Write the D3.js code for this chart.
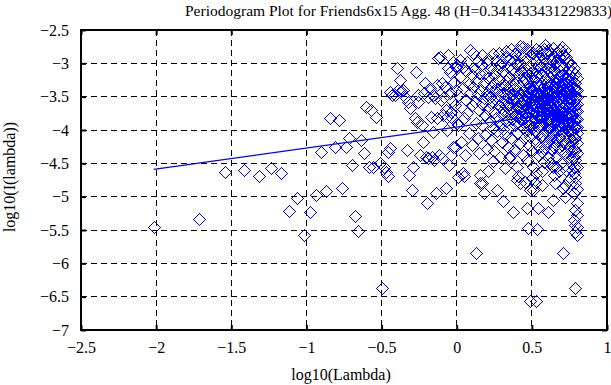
<!DOCTYPE html>
<html>
<head>
<meta charset="utf-8">
<script src="https://cdn.jsdelivr.net/npm/d3@7"></script>
<style>
    body { margin: 0; background: #fff; }
    #chart { width: 611px; height: 385px; overflow: hidden; }
    text { font-family: "Liberation Serif", "Times New Roman", serif; }
</style>
</head>
<body>
<div id="chart"></div>
<script>
// Axis ticks
var xTicks = [-2.5, -2, -1.5, -1, -0.5, 0, 0.5, 1];
var yTicks = [-7, -6.5, -6, -5.5, -5, -4.5, -4, -3.5, -3, -2.5];

// Fitted line end points (log10 lambda, log10 I)
var fitX = [-2.016, 0.798];
var fitY = [-4.59, -3.706];

// Low frequencies, read one by one
var lowPoints = [
    [-2.016,-5.46],[-1.715,-5.33],[-1.539,-4.63],[-1.414,-4.60],[-1.317,-4.69],[-1.238,-4.565],
    [-1.171,-4.64],[-1.113,-5.21],[-1.062,-5.02],[-1.016,-5.58],[-0.975,-5.23],[-0.937,-4.975],
    [-0.902,-4.325],[-0.870,-4.91],[-0.840,-3.825],[-0.812,-4.25],[-0.786,-3.85],[-0.761,-4.865],
    [-0.737,-4.25],[-0.715,-4.125],[-0.694,-4.53],[-0.674,-5.29],[-0.654,-5.51],[-0.636,-4.15],
    [-0.618,-4.35],[-0.601,-3.65],[-0.585,-4.56],[-0.569,-3.70],[-0.554,-4.55],[-0.539,-3.80],
    [-0.511,-4.50],[-0.497,-6.365],[-0.484,-4.56],[-0.471,-4.625],[-0.459,-4.685],[-0.455,-4.325],
    [-0.444,-4.275],[-0.444,-3.425],[-0.433,-3.48],[-0.41,-3.475],[-0.400,-3.075],[-0.389,-3.40],
    [-0.378,-3.25],[-0.368,-3.42],[-0.358,-3.40],[-0.344,-3.50],[-0.333,-4.30],[-0.322,-3.575],
    [-0.316,-4.675],[-0.311,-3.675],[-0.300,-4.90],[-0.289,-4.55],[-0.278,-3.825],[-0.271,-3.125],
    [-0.265,-3.88],[-0.260,-3.575],[-0.256,-3.475],[-0.244,-4.375],[-0.233,-3.925],[-0.222,-4.175],
    [-0.216,-3.45],[-0.211,-3.30],[-0.205,-4.40],[-0.200,-5.09],[-0.194,-3.50],[-0.189,-4.425],
    [-0.178,-3.375],[-0.172,-3.80],[-0.167,-4.40],[-0.161,-3.48],[-0.156,-4.025],[-0.150,-4.45],
    [-0.144,-3.52],[-0.138,-4.95],[-0.133,-3.325],[-0.128,-3.825],[-0.122,-2.925],[-0.117,-4.375],
    [-0.111,-2.90],[-0.106,-3.55],[-0.100,-3.30],[-0.095,-4.42],[-0.089,-3.775],[-0.084,-3.50],
    [-0.078,-3.35],[-0.074,-4.875],[-0.070,-3.70],[-0.067,-3.80],[-0.063,-4.00],[-0.060,-3.065],
    [-0.056,-2.875],[-0.052,-4.52],[-0.048,-3.45],[-0.044,-3.125],[-0.040,-3.725],[-0.036,-4.375],
    [-0.033,-3.825],[-0.029,-3.56],[-0.025,-4.25],[-0.022,-2.98],[-0.018,-3.28],[-0.014,-3.62],
    [-0.011,-4.25],[-0.008,-3.05],[-0.004,-3.40],[-0.001,-3.90]
];

// High frequencies, estimated from the dense cloud
var highPoints = [
    [0.010,-4.70],[0.044,-4.645],[0.050,-4.69],[0.055,-4.375],
    [0.00,-3.02],[0.01,-3.48],[0.01,-3.93],[0.02,-3.21],[0.02,-2.95],[0.03,-3.66],[0.03,-4.18],
    [0.04,-3.37],[0.04,-3.05],[0.05,-3.82],
    [0.06,-3.12],[0.06,-3.55],[0.07,-2.98],[0.07,-3.74],[0.08,-3.31],[0.08,-4.05],[0.09,-3.44],
    [0.09,-2.80],[0.10,-3.62],[0.10,-3.18],[0.10,-4.22],
    [0.11,-2.84],[0.11,-3.36],[0.12,-3.58],[0.12,-3.08],[0.13,-3.89],[0.13,-3.27],[0.14,-3.46],
    [0.14,-2.97],[0.14,-4.12],[0.15,-3.70],[0.15,-3.15],[0.15,-4.35],[0.126,-5.84],[0.155,-4.79],
    [0.155,-4.67],[0.166,-4.80],[0.184,-4.95],
    [0.16,-3.40],[0.16,-3.03],[0.17,-3.61],[0.17,-3.92],[0.17,-2.88],[0.18,-3.29],[0.18,-3.52],
    [0.19,-4.08],[0.19,-3.14],[0.19,-3.77],[0.20,-3.45],[0.20,-2.99],[0.20,-4.28],
    [0.21,-4.62],[0.243,-4.47],[0.21,-3.22],[0.21,-3.68],[0.21,-2.93],[0.22,-3.50],[0.22,-3.86],
    [0.22,-3.08],[0.23,-3.35],[0.23,-4.15],[0.23,-3.59],[0.24,-2.86],[0.24,-3.42],[0.24,-3.97],
    [0.25,-3.17],[0.25,-3.73],[0.25,-3.30],[0.25,-4.32],
    [0.266,-4.90],[0.26,-2.95],[0.26,-3.55],[0.26,-3.82],[0.27,-3.38],[0.27,-3.10],[0.27,-4.02],
    [0.28,-3.64],[0.28,-2.84],[0.28,-3.25],[0.28,-3.47],[0.29,-3.91],[0.29,-3.03],[0.29,-4.40],
    [0.30,-3.58],[0.30,-3.33],[0.30,-3.76],[0.30,-2.98],[0.30,-4.18],
    [0.306,-5.06],[0.32,-4.57],[0.31,-3.44],[0.31,-3.12],[0.31,-3.70],[0.32,-2.90],[0.32,-3.53],
    [0.32,-4.08],[0.33,-3.27],[0.33,-3.86],[0.33,-3.62],[0.33,-2.81],[0.34,-3.39],[0.34,-4.25],
    [0.34,-3.05],[0.34,-3.75],[0.35,-3.50],[0.35,-3.20],[0.35,-3.95],[0.35,-2.93],[0.35,-4.42],
    [0.32,-3.33],[0.31,-3.98],
    [0.354,-4.395],[0.376,-5.225],[0.399,-4.75],[0.36,-3.31],[0.36,-3.67],[0.36,-2.78],[0.36,-4.12],
    [0.37,-3.46],[0.37,-3.08],[0.37,-3.84],[0.37,-3.56],[0.38,-2.97],[0.38,-3.38],[0.38,-4.30],
    [0.38,-3.72],[0.38,-3.15],[0.39,-3.61],[0.39,-2.86],[0.39,-3.93],[0.39,-3.25],[0.39,-3.49],
    [0.40,-3.79],[0.40,-3.02],[0.40,-4.05],[0.40,-3.40],[0.40,-4.55],
    [0.41,-3.18],[0.41,-3.57],[0.41,-2.80],[0.41,-3.88],[0.41,-4.69],[0.42,-3.35],[0.42,-3.66],
    [0.42,-2.99],[0.42,-4.20],[0.42,-4.80],[0.42,-2.74],[0.43,-3.48],[0.43,-3.11],[0.43,-3.80],
    [0.43,-2.88],[0.43,-3.60],[0.44,-3.27],[0.44,-3.97],[0.44,-3.42],[0.44,-2.76],[0.44,-4.38],
    [0.45,-3.70],[0.45,-3.05],[0.45,-3.53],[0.45,-4.12],[0.45,-3.22],[0.45,-3.89],
    [0.454,-4.775],[0.465,-5.175],[0.476,-5.475],[0.487,-6.565],[0.487,-4.90],[0.499,-4.725],
    [0.46,-3.37],[0.46,-2.93],[0.46,-3.63],[0.46,-4.02],[0.46,-3.15],[0.47,-3.50],[0.47,-2.79],
    [0.47,-3.78],[0.47,-3.28],[0.47,-4.45],[0.48,-3.44],[0.48,-3.07],[0.48,-3.92],[0.48,-3.58],
    [0.48,-4.22],[0.49,-3.20],[0.49,-2.87],[0.49,-3.71],[0.49,-3.35],[0.49,-4.10],[0.50,-3.55],
    [0.50,-2.99],[0.50,-3.84],[0.50,-3.41],[0.50,-4.32],[0.50,-3.13],[0.48,-2.81],
    [0.51,-4.90],[0.52,-4.80],[0.528,-6.56],[0.532,-5.49],[0.543,-5.175],
    [0.51,-3.26],[0.51,-3.62],[0.51,-2.84],[0.51,-3.95],[0.51,-3.47],[0.51,-4.55],[0.52,-3.09],
    [0.52,-3.74],[0.52,-3.38],[0.52,-4.18],[0.52,-2.95],[0.52,-3.55],[0.53,-3.66],[0.53,-3.21],
    [0.53,-4.03],[0.53,-2.78],[0.53,-3.44],[0.53,-3.87],[0.54,-3.31],[0.54,-3.02],[0.54,-3.59],
    [0.54,-4.38],[0.54,-3.78],[0.54,-2.90],[0.55,-3.49],[0.55,-3.14],[0.55,-3.93],[0.55,-3.68],
    [0.55,-4.25],[0.55,-2.82],[0.55,-3.36],[0.53,-4.65],
    [0.566,-4.825],[0.56,-3.57],[0.56,-3.05],[0.56,-3.81],[0.56,-3.29],[0.56,-4.10],[0.56,-2.88],
    [0.57,-3.43],[0.57,-3.70],[0.57,-2.96],[0.57,-4.33],[0.57,-3.18],[0.57,-3.58],[0.57,-2.82],
    [0.58,-3.34],[0.58,-3.90],[0.58,-2.79],[0.58,-3.64],[0.58,-3.11],[0.58,-4.48],[0.58,-3.48],
    [0.59,-3.24],[0.59,-3.77],[0.59,-2.72],[0.59,-4.02],[0.59,-3.53],[0.59,-3.39],[0.60,-3.66],
    [0.60,-3.01],[0.60,-4.20],[0.60,-3.85],[0.60,-3.28],[0.60,-2.85],[0.60,-3.45],[0.57,-4.62],
    [0.605,-5.225],[0.643,-5.05],[0.653,-4.80],
    [0.61,-3.36],[0.61,-3.72],[0.61,-3.07],[0.61,-3.95],[0.61,-2.80],[0.61,-3.52],[0.61,-4.40],
    [0.62,-3.20],[0.62,-3.63],[0.62,-2.94],[0.62,-3.83],[0.62,-3.41],[0.62,-4.12],[0.63,-3.55],
    [0.63,-3.13],[0.63,-3.74],[0.63,-2.86],[0.63,-4.28],[0.63,-3.31],[0.63,-3.98],[0.64,-3.46],
    [0.64,-3.02],[0.64,-3.68],[0.64,-4.55],[0.64,-3.25],[0.64,-3.88],[0.64,-2.77],[0.65,-3.59],
    [0.65,-3.38],[0.65,-4.06],[0.65,-3.10],[0.65,-3.79],[0.65,-2.91],[0.65,-4.68],[0.62,-4.50],
    [0.63,-3.48],
    [0.705,-5.84],[0.709,-4.875],
    [0.66,-3.28],[0.66,-3.66],[0.66,-2.98],[0.66,-3.87],[0.66,-3.47],[0.66,-4.22],[0.67,-3.15],
    [0.67,-3.56],[0.67,-2.83],[0.67,-3.77],[0.67,-4.40],[0.67,-3.36],[0.67,-3.96],[0.68,-3.62],
    [0.68,-3.04],[0.68,-3.43],[0.68,-4.10],[0.68,-2.90],[0.68,-3.82],[0.68,-3.24],[0.68,-4.62],
    [0.69,-3.51],[0.69,-3.11],[0.69,-3.71],[0.69,-2.80],[0.69,-4.30],[0.69,-3.33],[0.69,-3.92],
    [0.70,-3.58],[0.70,-3.19],[0.70,-3.80],[0.70,-2.75],[0.70,-4.05],[0.70,-3.40],[0.70,-4.48],
    [0.70,-3.66],[0.67,-3.69],[0.66,-4.55],[0.69,-3.02],
    [0.72,-5.00],
    [0.71,-3.30],[0.71,-3.74],[0.71,-3.05],[0.71,-3.92],[0.71,-3.50],[0.71,-4.18],[0.71,-2.87],
    [0.72,-3.62],[0.72,-3.21],[0.72,-3.85],[0.72,-3.41],[0.72,-4.35],[0.72,-2.80],[0.72,-3.70],
    [0.73,-3.13],[0.73,-3.55],[0.73,-3.97],[0.73,-3.34],[0.73,-4.60],[0.73,-2.90],[0.73,-3.78],
    [0.74,-3.46],[0.74,-3.08],[0.74,-3.66],[0.74,-4.10],[0.74,-3.27],[0.74,-3.89],[0.74,-4.42],
    [0.75,-3.58],[0.75,-3.17],[0.75,-3.80],[0.75,-3.38],[0.75,-4.25],[0.75,-2.98],[0.75,-3.52],
    [0.75,-4.75],[0.72,-4.82],[0.73,-3.45],[0.71,-3.60],[0.74,-3.00],[0.72,-3.30],
    [0.76,-3.25],[0.76,-3.68],[0.76,-3.02],[0.76,-3.91],[0.76,-3.45],[0.76,-4.15],[0.76,-3.56],
    [0.77,-3.34],[0.77,-3.77],[0.77,-3.11],[0.77,-4.02],[0.77,-3.58],[0.77,-4.40],[0.77,-3.20],
    [0.78,-3.48],[0.78,-3.86],[0.78,-3.07],[0.78,-3.64],[0.78,-4.28],[0.78,-3.37],[0.78,-4.55],
    [0.79,-3.72],[0.79,-3.16],[0.79,-3.95],[0.79,-3.50],[0.79,-4.12],[0.79,-3.29],[0.79,-4.70],
    [0.80,-3.61],[0.80,-3.40],[0.80,-3.83],[0.80,-4.35],[0.80,-3.22],[0.80,-4.05],[0.80,-4.88],
    [0.78,-4.65],[0.79,-4.80],[0.78,-4.95],[0.80,-5.10],[0.79,-5.20],[0.80,-5.275],[0.78,-5.35],
    [0.79,-5.425],[0.80,-5.45],[0.79,-5.525],[0.80,-5.575],[0.787,-6.365]
];

// Extra points inside the solid core of the cloud
var corePoints = [
    [0.45,-3.62],[0.46,-3.81],[0.46,-3.47],[0.47,-3.66],[0.47,-3.94],[0.48,-3.72],[0.48,-3.33],
    [0.49,-3.86],[0.49,-3.56],[0.50,-3.68],[0.50,-3.97],[0.51,-3.79],[0.51,-3.36],[0.52,-3.63],
    [0.52,-3.88],[0.53,-3.52],[0.53,-3.74],[0.54,-3.96],[0.54,-3.45],[0.55,-3.80],[0.55,-3.58],
    [0.56,-3.69],[0.56,-3.92],[0.56,-3.40],[0.57,-3.84],[0.57,-3.51],[0.57,-4.08],[0.58,-3.75],
    [0.58,-3.57],[0.58,-4.15],[0.59,-3.64],[0.59,-3.88],[0.59,-4.26],[0.60,-3.54],[0.60,-3.74],
    [0.60,-4.02],[0.61,-3.61],[0.61,-3.83],[0.61,-3.44],[0.61,-4.18],[0.62,-3.51],[0.62,-3.72],
    [0.62,-3.96],[0.62,-3.30],[0.63,-3.64],[0.63,-3.86],[0.63,-3.40],[0.63,-4.10],[0.64,-3.57],
    [0.64,-3.77],[0.64,-3.36],[0.64,-4.02],[0.65,-3.49],[0.65,-3.68],[0.65,-3.90],[0.65,-3.27],
    [0.65,-4.25],[0.66,-3.56],[0.66,-3.76],[0.66,-3.37],[0.66,-4.00],[0.67,-3.46],[0.67,-3.86],
    [0.67,-3.25],[0.67,-4.15],[0.68,-3.53],[0.68,-3.71],[0.68,-3.93],[0.68,-3.33],[0.69,-3.61],
    [0.69,-3.82],[0.69,-3.42],[0.69,-4.08],[0.70,-3.49],[0.70,-3.71],[0.70,-3.90],[0.70,-3.29],
    [0.70,-4.22],[0.71,-3.40],[0.71,-3.83],[0.71,-4.03],[0.71,-3.18],[0.72,-3.52],[0.72,-3.77],
    [0.72,-3.96],[0.72,-4.15],[0.73,-3.63],[0.73,-3.87],[0.73,-3.24],[0.73,-4.08],[0.74,-3.55],
    [0.74,-3.76],[0.74,-3.37],[0.74,-4.00],[0.75,-3.45],[0.75,-3.69],[0.75,-3.92],[0.75,-4.12],
    [0.76,-3.35],[0.76,-3.79],[0.76,-4.03],[0.76,-4.32],[0.77,-3.47],[0.77,-3.67],[0.77,-3.90],
    [0.77,-4.20],[0.78,-3.56],[0.78,-3.76],[0.78,-3.96],[0.78,-4.12],[0.79,-3.40],[0.79,-3.62],
    [0.79,-3.84],[0.79,-4.30],[0.80,-3.50],[0.80,-3.72],[0.80,-3.95],[0.80,-4.20],[0.80,-4.55],
    [0.79,-4.45],[0.78,-4.40],[0.77,-4.60],[0.40,-3.65],[0.41,-3.45],[0.42,-3.82],[0.43,-3.70],
    [0.44,-3.55],[0.35,-3.62],[0.36,-3.48],[0.37,-3.72],[0.38,-3.55],[0.39,-3.78],[0.33,-3.48],
    [0.34,-3.60]
];

var titleText = 'Periodogram Plot for Friends6x15 Agg. 48 (H=0.341433431229833)';

/**
 * Draw the periodogram
 */
function renderPeriodogram() {
    var width = 611, height = 385;
    var margin = { top: 30, right: 4, bottom: 55, left: 81 };
    var fmt = d3.format('~g');

    var svg = d3.select('#chart').append('svg')
        .attr('width', width)
        .attr('height', height);

    var x = d3.scaleLinear().domain([-2.5, 1]).range([margin.left, width - margin.right]);
    var y = d3.scaleLinear().domain([-7, -2.5]).range([height - margin.bottom, margin.top]);

    // Dashed grid
    var grid = svg.append('g')
        .attr('stroke', '#000')
        .attr('stroke-width', 1)
        .attr('stroke-dasharray', '6,4')
        .attr('shape-rendering', 'crispEdges');
    grid.selectAll('.gx')
        .data(xTicks.slice(1, -1))
        .enter().append('line')
        .attr('x1', function(d) { return x(d); })
        .attr('x2', function(d) { return x(d); })
        .attr('y1', y(-2.5))
        .attr('y2', y(-7));
    grid.selectAll('.gy')
        .data(yTicks.slice(1, -1))
        .enter().append('line')
        .attr('y1', function(d) { return y(d); })
        .attr('y2', function(d) { return y(d); })
        .attr('x1', x(-2.5))
        .attr('x2', x(1));

    // Diamonds, snapped to pixel centres so the aliased outline stays 1px
    var r = 6;
    var allPoints = lowPoints.concat(highPoints, corePoints);
    svg.append('g')
        .attr('shape-rendering', 'crispEdges')
        .selectAll('path')
        .data(allPoints)
        .enter().append('path')
        .attr('transform', function(d) {
            return 'translate(' + (Math.round(x(d[0])) + 0.5) + ',' + (Math.round(y(d[1])) + 0.5) + ')';
        })
        .attr('d', 'M0,' + (-r) + 'L' + r + ',0L0,' + r + 'L' + (-r) + ',0Z')
        .attr('fill', 'none')
        .attr('stroke', '#0000ff')
        .attr('stroke-width', 1);

    // Fitted line
    svg.append('line')
        .attr('x1', x(fitX[0])).attr('y1', y(fitY[0]))
        .attr('x2', x(fitX[1])).attr('y2', y(fitY[1]))
        .attr('stroke', '#0000ff')
        .attr('stroke-width', 1.3);

    // Axes with inward ticks, then the box
    var tickLen = 5;
    svg.append('g')
        .attr('transform', 'translate(0,' + y(-7) + ')')
        .call(d3.axisBottom(x).tickValues(xTicks).tickFormat(fmt).tickSizeInner(-tickLen).tickSizeOuter(0).tickPadding(12));
    svg.append('g')
        .attr('transform', 'translate(0,' + y(-2.5) + ')')
        .call(d3.axisTop(x).tickValues(xTicks).tickFormat('').tickSizeInner(-tickLen).tickSizeOuter(0));
    svg.append('g')
        .attr('transform', 'translate(' + x(-2.5) + ',0)')
        .call(d3.axisLeft(y).tickValues(yTicks).tickFormat(fmt).tickSizeInner(-tickLen).tickSizeOuter(0).tickPadding(12));
    svg.append('g')
        .attr('transform', 'translate(' + x(1) + ',0)')
        .call(d3.axisRight(y).tickValues(yTicks).tickFormat('').tickSizeInner(-tickLen).tickSizeOuter(0));

    svg.selectAll('.domain').remove();
    svg.selectAll('.tick line').attr('stroke', '#000').attr('stroke-width', 2);
    svg.selectAll('.tick text')
        .attr('fill', '#000')
        .style('font-family', '"Liberation Serif", "Times New Roman", serif')
        .style('font-size', '16px');

    svg.append('rect')
        .attr('x', x(-2.5)).attr('y', y(-2.5))
        .attr('width', x(1) - x(-2.5))
        .attr('height', y(-7) - y(-2.5))
        .attr('fill', 'none')
        .attr('stroke', '#000')
        .attr('stroke-width', 2);

    // Title and labels (the title runs past the right edge, as in the original)
    svg.append('text')
        .attr('x', 185).attr('y', 16)
        .style('font-size', '15.5px')
        .text(titleText);
    svg.append('text')
        .attr('x', 341).attr('y', 380)
        .attr('text-anchor', 'middle')
        .style('font-size', '16px')
        .text('log10(Lambda)');
    svg.append('text')
        .attr('transform', 'translate(15,' + 177 + ') rotate(-90)')
        .attr('text-anchor', 'middle')
        .style('font-size', '16px')
        .text('log10(I(lambda))');
}

renderPeriodogram();
</script>
</body>
</html>
